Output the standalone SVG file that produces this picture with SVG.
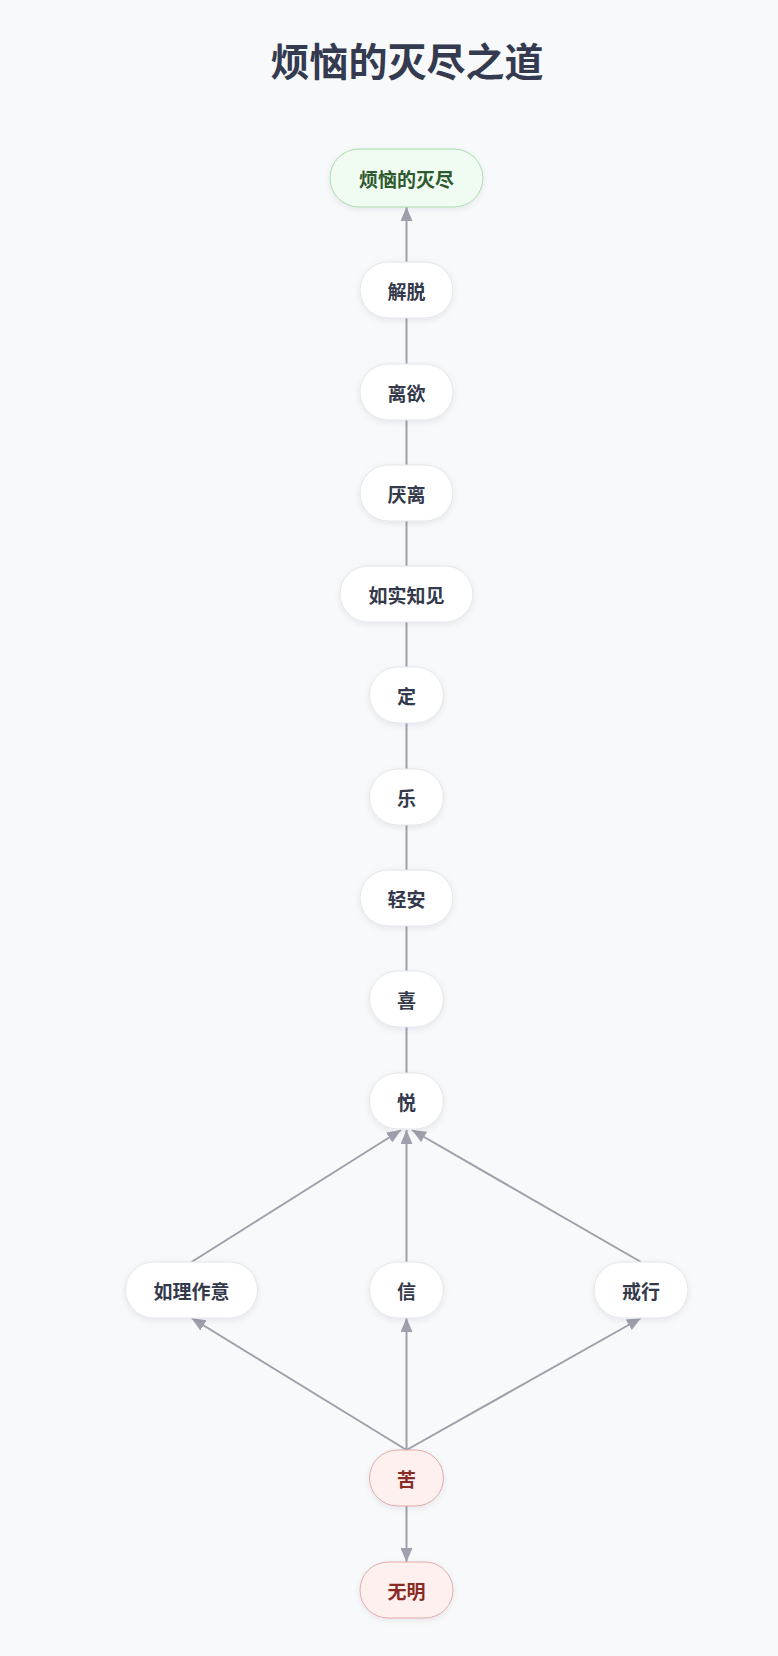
<svg xmlns="http://www.w3.org/2000/svg" width="778" height="1656" viewBox="0 0 778 1656">
<defs>
<filter id="sh" x="-20%" y="-20%" width="140%" height="150%">
<feDropShadow dx="0" dy="2" stdDeviation="3" flood-color="#1f2937" flood-opacity="0.08"/>
</filter>
<marker id="arr" viewBox="0 0 14 12" refX="14" refY="6" markerWidth="14" markerHeight="12" markerUnits="userSpaceOnUse" orient="auto">
<path d="M0,0 L14,6 L0,12 z" fill="#9ea1ab"/>
</marker>
<style>
.n rect{fill:#ffffff;stroke:#e3e5e9;stroke-width:1;filter:url(#sh)}
.n text{font-family:"Noto Sans CJK SC","Noto Sans",sans-serif;font-size:19px;font-weight:600;fill:#343a4b;text-anchor:middle;dominant-baseline:central}
.g rect{fill:#f0fbf1;stroke:#a9dcae}
.g text{fill:#2e5a2f;font-weight:700}
.r rect{fill:#fdf0ef;stroke:#e2aaa8}
.r text{fill:#8a2a24}
.e line{stroke:#9ea1ab;stroke-width:2;fill:none}
.e .a{marker-end:url(#arr)}
</style>
</defs>
<rect width="778" height="1656" fill="#f8f9fb"/>
<text x="407" y="59" font-family="Noto Sans CJK SC,Noto Sans,sans-serif" font-size="39" font-weight="700" fill="#343a4f" text-anchor="middle" dominant-baseline="central">烦恼的灭尽之道</text>
<g id="edges" class="e">
<line class="a" x1="406.5" y1="262" x2="406.5" y2="207"/>
<line x1="406.5" y1="364" x2="406.5" y2="318"/>
<line x1="406.5" y1="465" x2="406.5" y2="420"/>
<line x1="406.5" y1="566" x2="406.5" y2="521"/>
<line x1="406.5" y1="667" x2="406.5" y2="622"/>
<line x1="406.5" y1="769" x2="406.5" y2="723"/>
<line x1="406.5" y1="870" x2="406.5" y2="825"/>
<line x1="406.5" y1="971" x2="406.5" y2="926"/>
<line x1="406.5" y1="1073" x2="406.5" y2="1027"/>
<line class="a" x1="191.5" y1="1262" x2="401" y2="1130"/>
<line class="a" x1="406.5" y1="1262" x2="406.5" y2="1130"/>
<line class="a" x1="641" y1="1262" x2="412" y2="1130"/>
<line class="a" x1="406.5" y1="1450" x2="191.5" y2="1318"/>
<line class="a" x1="406.5" y1="1450" x2="406.5" y2="1318"/>
<line class="a" x1="406.5" y1="1450" x2="641" y2="1318"/>
<line class="a" x1="406.5" y1="1506" x2="406.5" y2="1562"/>
</g>
<g id="n-top" class="n g"><rect x="330" y="149" width="153" height="58" rx="29"/><text x="406.5" y="178">烦恼的灭尽</text></g>
<g id="n-jietuo" class="n"><rect x="360" y="262" width="93" height="56" rx="28"/><text x="406.5" y="290">解脱</text></g>
<g id="n-liyu" class="n"><rect x="360" y="364" width="93" height="56" rx="28"/><text x="406.5" y="392">离欲</text></g>
<g id="n-yanli" class="n"><rect x="360" y="465" width="93" height="56" rx="28"/><text x="406.5" y="493">厌离</text></g>
<g id="n-rushi" class="n"><rect x="340" y="566" width="133" height="56" rx="28"/><text x="406.5" y="594">如实知见</text></g>
<g id="n-ding" class="n"><rect x="369.5" y="667" width="74" height="56" rx="28"/><text x="406.5" y="695">定</text></g>
<g id="n-le" class="n"><rect x="369.5" y="769" width="74" height="56" rx="28"/><text x="406.5" y="797">乐</text></g>
<g id="n-qingan" class="n"><rect x="360" y="870" width="93" height="56" rx="28"/><text x="406.5" y="898">轻安</text></g>
<g id="n-xi" class="n"><rect x="369.5" y="971" width="74" height="56" rx="28"/><text x="406.5" y="999">喜</text></g>
<g id="n-yue" class="n"><rect x="369.5" y="1073" width="74" height="56" rx="28"/><text x="406.5" y="1101">悦</text></g>
<g id="n-ruli" class="n"><rect x="125.5" y="1262" width="132" height="56" rx="28"/><text x="191.5" y="1290">如理作意</text></g>
<g id="n-xin" class="n"><rect x="369.5" y="1262" width="74" height="56" rx="28"/><text x="406.5" y="1290">信</text></g>
<g id="n-jiexing" class="n"><rect x="594" y="1262" width="94" height="56" rx="28"/><text x="641" y="1290">戒行</text></g>
<g id="n-ku" class="n r"><rect x="369.5" y="1450" width="74" height="56" rx="28"/><text x="406.5" y="1478">苦</text></g>
<g id="n-wuming" class="n r"><rect x="360" y="1562" width="93" height="56" rx="28"/><text x="406.5" y="1590">无明</text></g>
</svg>
